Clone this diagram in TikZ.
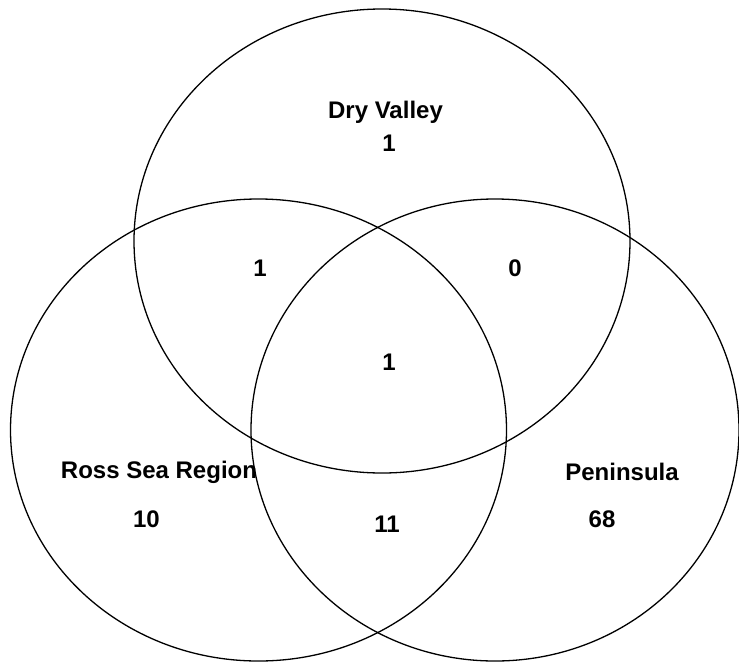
\documentclass[tikz,border=0pt]{standalone}
\usepackage{fontspec}
\setmainfont{Liberation Sans}
\begin{document}
\begin{tikzpicture}[x=1pt,y=-1pt,
  setline/.style={draw=black,line width=1.3pt},
  lbl/.style={font=\fontsize{24}{27}\selectfont\bfseries,inner sep=0pt,anchor=center}]
\useasboundingbox (0,0) rectangle (739,662);
\draw[setline] (382,241) ellipse [x radius=248, y radius=232];
\draw[setline] (258.5,430) ellipse [x radius=248, y radius=231];
\draw[setline] (495,430) ellipse [x radius=244, y radius=231];
\node[lbl] (dvname) at (385.5,112) {Dry Valley};
\node[lbl] (dvn) at (389,143) {1};
\node[lbl] (dvr) at (260,268) {1};
\node[lbl] (dvp) at (515,268) {0};
\node[lbl] (all) at (389,362) {1};
\node[lbl] (rsname) at (159,472) {Ross Sea Region};
\node[lbl] (pname) at (622,472) {Peninsula};
\node[lbl] (rsn) at (146.5,519.5) {10};
\node[lbl] (rp) at (387,524.5) {11};
\node[lbl] (pn) at (602,519.5) {68};
\end{tikzpicture}
\end{document}
